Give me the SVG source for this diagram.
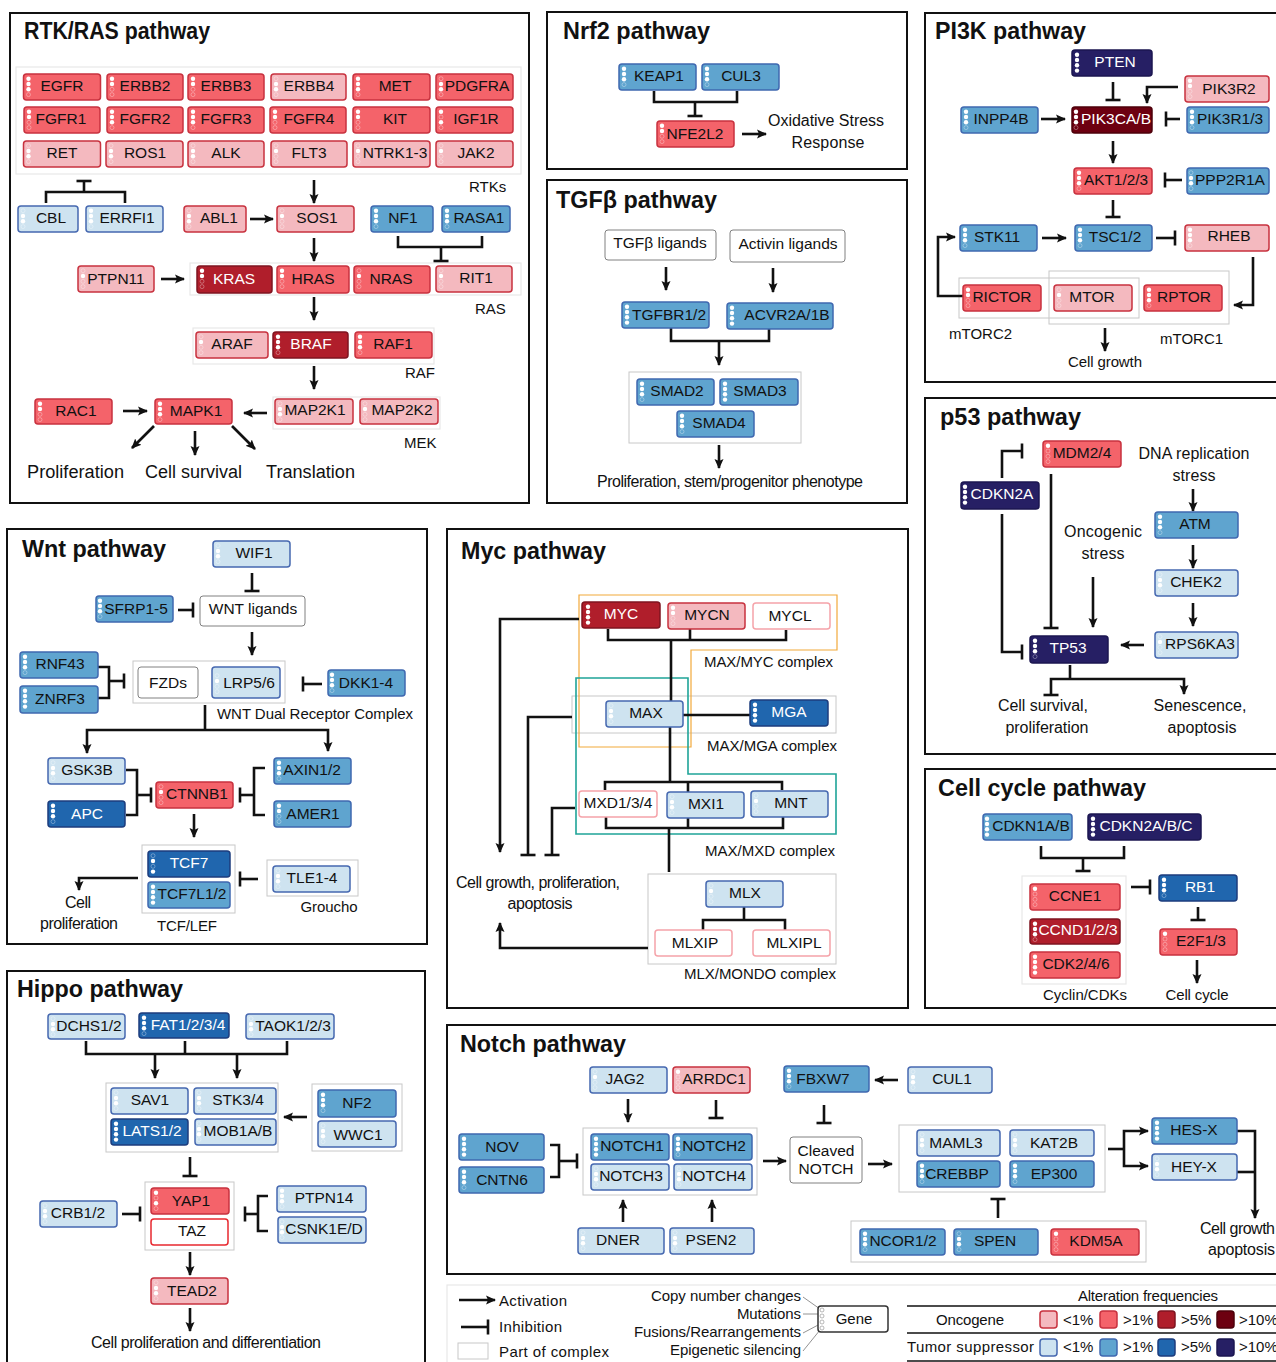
<svg xmlns="http://www.w3.org/2000/svg" width="1276" height="1362" viewBox="0 0 1276 1362">
<style>
text{font-family:"Liberation Sans",Arial,sans-serif;fill:#111}
.ti{font-size:23px;font-weight:700}
.l{font-size:16px}
.b18{font-size:18px}
.s{font-size:15px}
.m{text-anchor:middle}
.e{text-anchor:end}
.nd rect,rect.nd{rx:3px;stroke-width:1.5}
.nd text{font-size:15.5px;text-anchor:middle;transform:translateY(-0.8px)}
.o0 rect,rect.o0{fill:#f4b9bf;stroke:#c8323f}
.o1 rect,rect.o1{fill:#f4636a;stroke:#c8323f}
.o2 rect,rect.o2{fill:#b01e2b;stroke:#7f1420}
.o3 rect,rect.o3{fill:#6d0010;stroke:#4d000a}
.t0 rect,rect.t0{fill:#cee3f0;stroke:#4668b0}
.t1 rect,rect.t1{fill:#5fa4cf;stroke:#3f68b0}
.t2 rect,rect.t2{fill:#2066ae;stroke:#1c3d7e}
.t3 rect,rect.t3{fill:#261f64;stroke:#1b1650}
.o2 text,.o3 text,.t2 text,.t3 text{fill:#fff}
.w rect{fill:#fff;stroke:#f5a3a9}
.r rect{fill:#fff;stroke:#e8282f}
.g rect{fill:#fff;stroke:#808080;stroke-width:1}
.panel{fill:#fff;stroke:#111;stroke-width:2}
.cx{fill:#fff;stroke:#c8c8c8;stroke-width:1}
.cl{fill:#fff;stroke:#e8e8e8;stroke-width:1.2}
.f{fill:#fff}
.h{fill:none;stroke:#fff;stroke-opacity:.4;stroke-width:.8}
#connectors path{fill:none;stroke:#111;stroke-width:2.6}
#connectors path.a{marker-end:url(#a)}
#connectors path.b{marker-end:url(#b)}
#leaders path{fill:none;stroke:#777;stroke-width:.8}
</style>
<defs>
<marker id="a" viewBox="0 0 10 10" refX="9" refY="5" markerWidth="10" markerHeight="10" orient="auto" markerUnits="userSpaceOnUse"><path d="M0 0.5L10 5L0 9.5L2 5Z" fill="#111"/></marker>
<marker id="b" viewBox="0 0 4 16" refX="2" refY="8" markerWidth="4" markerHeight="16" orient="auto" markerUnits="userSpaceOnUse"><rect x="0.7" y="0.5" width="2.6" height="15" fill="#111"/></marker>
<g id="d0000"><circle class="h" cy="4.7" r="2"/><circle class="h" cy="10" r="2"/><circle class="h" cy="15.3" r="2"/><circle class="h" cy="20.6" r="2"/></g>
<g id="d1000"><circle class="f" cy="4.7" r="2.2"/><circle class="h" cy="10" r="2"/><circle class="h" cy="15.3" r="2"/><circle class="h" cy="20.6" r="2"/></g>
<g id="d0100"><circle class="h" cy="4.7" r="2"/><circle class="f" cy="10" r="2.2"/><circle class="h" cy="15.3" r="2"/><circle class="h" cy="20.6" r="2"/></g>
<g id="d1100"><circle class="f" cy="4.7" r="2.2"/><circle class="f" cy="10" r="2.2"/><circle class="h" cy="15.3" r="2"/><circle class="h" cy="20.6" r="2"/></g>
<g id="d0110"><circle class="h" cy="4.7" r="2"/><circle class="f" cy="10" r="2.2"/><circle class="f" cy="15.3" r="2.2"/><circle class="h" cy="20.6" r="2"/></g>
<g id="d1010"><circle class="f" cy="4.7" r="2.2"/><circle class="h" cy="10" r="2"/><circle class="f" cy="15.3" r="2.2"/><circle class="h" cy="20.6" r="2"/></g>
<g id="d1110"><circle class="f" cy="4.7" r="2.2"/><circle class="f" cy="10" r="2.2"/><circle class="f" cy="15.3" r="2.2"/><circle class="h" cy="20.6" r="2"/></g>
<g id="d0101"><circle class="h" cy="4.7" r="2"/><circle class="f" cy="10" r="2.2"/><circle class="h" cy="15.3" r="2"/><circle class="f" cy="20.6" r="2.2"/></g>
<g id="d1111"><circle class="f" cy="4.7" r="2.2"/><circle class="f" cy="10" r="2.2"/><circle class="f" cy="15.3" r="2.2"/><circle class="f" cy="20.6" r="2.2"/></g>
</defs>
<rect width="1276" height="1362" fill="#fff"/>
<g id="panels">
<rect class="panel" x="10" y="13" width="519" height="490"/>
<rect class="panel" x="547" y="12" width="360" height="157"/>
<rect class="panel" x="547" y="180" width="360" height="323"/>
<rect class="panel" x="925" y="13" width="360" height="369"/>
<rect class="panel" x="925" y="398" width="360" height="356"/>
<rect class="panel" x="925" y="769" width="360" height="239"/>
<rect class="panel" x="7" y="529" width="420" height="415"/>
<rect class="panel" x="447" y="529" width="461" height="479"/>
<rect class="panel" x="7" y="971" width="418" height="400"/>
<rect class="panel" x="447" y="1025" width="840" height="249"/>
<rect class="cl" x="447" y="1285" width="840" height="90"/>
</g>
<g id="complexes">
<rect class="cl" x="16" y="67" width="505" height="107"/>
<rect class="cl" x="190" y="263" width="331" height="32"/>
<rect class="cl" x="193" y="328" width="241" height="36"/>
<rect class="cl" x="273" y="397" width="167" height="32"/>
<rect class="cx" x="629" y="372" width="172" height="71"/>
<rect class="cx" x="959" y="278" width="180" height="40"/>
<rect class="cx" x="1049" y="271" width="180" height="53" fill-opacity="0"/>
<rect class="cl" x="1022" y="876" width="104" height="108"/>
<rect class="cx" x="133" y="661" width="152" height="42"/>
<rect class="cx" x="142" y="845" width="93" height="68"/>
<rect class="cx" x="267" y="860" width="91" height="36"/>
<rect class="cx" x="106" y="1083" width="172" height="69"/>
<rect class="cx" x="312" y="1084" width="90" height="67"/>
<rect class="cx" x="145" y="1182" width="89" height="68"/>
<rect class="cx" x="572" y="696" width="264" height="37"/>
<path d="M579 595H837V650H691V747H579Z" fill="none" stroke="#f2a93b" stroke-width="1.2"/>
<path d="M576 678H688V774H836V834H576Z" fill="none" stroke="#1fa498" stroke-width="1.6"/>
<rect class="cx" x="648" y="874" width="188" height="90"/>
<rect class="cx" x="583" y="1128" width="174" height="67"/>
<rect class="cx" x="899" y="1125" width="206" height="67"/>
<rect class="cx" x="851" y="1221" width="295" height="41"/>
</g>
<g id="connectors">
<path class="b" d="M84 192V181"/><path d="M46 203V192H125V203"/>
<path class="a" d="M314 180V203"/><path class="a" d="M250 219H273"/><path class="a" d="M314 238V261"/>
<path d="M398 236V247H482V236"/><path class="b" d="M441 247V261"/>
<path class="a" d="M161 279H184"/><path class="a" d="M314 297V320"/><path class="a" d="M314 366V389"/>
<path class="a" d="M123 411H147"/><path class="a" d="M267 413H244"/>
<path class="a" d="M154 426L132 448"/><path class="a" d="M195 431V455"/><path class="a" d="M232 426L255 449"/>
<path d="M654 91V102H737V91"/><path class="b" d="M695 102V116"/><path class="a" d="M742 134H766"/>
<path class="a" d="M666 267V290"/><path class="a" d="M773 268V292"/>
<path d="M671 328V341H769V329"/><path class="a" d="M719 341V365"/><path class="a" d="M719 445V468"/>
<path class="b" d="M1113 82V100"/><path class="a" d="M1178 87H1147V103"/><path class="a" d="M1041 119H1065"/>
<path class="b" d="M1180 119H1166"/><path class="a" d="M1113 141V163"/><path class="b" d="M1182 180H1165"/>
<path class="b" d="M1113 200V217"/><path class="a" d="M1042 238H1066"/><path class="a" d="M963 296H938V237H955"/>
<path class="b" d="M1156 238H1175"/><path class="a" d="M1253 257V305H1234"/><path class="a" d="M1105 328V351"/>
<path class="b" d="M1002 478V451H1022"/><path class="b" d="M1051 474V628"/><path class="b" d="M1002 514V652H1022"/>
<path class="a" d="M1093 577V627"/><path class="a" d="M1193 489V511"/><path class="a" d="M1193 545V568"/><path class="a" d="M1193 603V626"/>
<path class="a" d="M1144 645H1121"/><path d="M1070 665V679"/><path class="b" d="M1070 679H1051V695"/><path class="a" d="M1070 679H1184V694"/>
<path d="M1041 846V858H1124V846"/><path class="b" d="M1083 858V871"/><path class="b" d="M1131 887H1150"/><path class="b" d="M1198 907V920"/><path class="a" d="M1197 960V983"/>
<path class="b" d="M252 573V591"/><path class="b" d="M178 610H193"/><path class="a" d="M252 632V655"/>
<path d="M98 667H109V698H98"/><path class="b" d="M109 681H124"/><path class="b" d="M322 684H303"/>
<path d="M205 705V730"/><path class="a" d="M205 730H87V753"/><path class="a" d="M205 730H328V751"/>
<path d="M126 770H137V815H126"/><path class="b" d="M137 795H151"/><path d="M265 768H254V815H265"/><path class="b" d="M254 795H240"/>
<path class="a" d="M194 814V837"/><path class="b" d="M258 879H240"/><path class="a" d="M138 878H79V890"/>
<path d="M86 1041V1054H287V1041"/><path d="M185 1041V1054"/><path class="a" d="M155 1054V1078"/><path class="a" d="M237 1054V1078"/>
<path class="a" d="M307 1117H284"/><path class="b" d="M190 1157V1176"/><path class="b" d="M122 1214H140"/>
<path d="M268 1196H258V1231H268"/><path class="b" d="M258 1214H245"/><path class="a" d="M190 1252V1275"/><path class="a" d="M190 1308V1331"/>
<path d="M608 629V640H786V630"/><path d="M690 629V640"/><path d="M671 640V702"/><path d="M683 715H750"/><path d="M670 727V782"/>
<path d="M605 790V782H782V790"/><path d="M688 782V792"/><path d="M606 817V828H783V817"/><path d="M688 818V828"/><path d="M669 828V872"/>
<path class="a" d="M579 619H500V852"/><path class="b" d="M572 717H528V855"/><path class="b" d="M575 808H552V855"/>
<path d="M744 907V920"/><path d="M703 930V920H785V930"/><path class="a" d="M648 948H500V923"/>
<path class="a" d="M898 1080H875"/><path class="b" d="M824 1105V1123"/><path class="a" d="M628 1099V1122"/><path class="b" d="M716 1100V1118"/>
<path d="M550 1145H559V1177H550"/><path class="b" d="M559 1161H577"/><path class="a" d="M763 1161H786"/><path class="a" d="M868 1164H892"/>
<path d="M1108 1149H1124"/><path class="a" d="M1124 1149V1131H1148"/><path class="a" d="M1124 1149V1166H1148"/>
<path class="a" d="M1237 1131H1255V1218"/><path d="M1237 1172H1255"/><path class="b" d="M998 1218V1199"/>
<path class="a" d="M623 1222V1200"/><path class="a" d="M712 1222V1200"/>
<path class="a" d="M459 1300H495"/><path class="b" d="M461 1327H488"/>
</g>
<g id="nodes" class="nd">
<g id="EGFR" class="o1"><rect x="23.5" y="74" width="77" height="26"/><use href="#d1110" x="28.5" y="74"/><text x="62" y="92">EGFR</text></g>
<g id="ERBB2" class="o1"><rect x="107" y="74" width="76" height="26"/><use href="#d1100" x="112" y="74"/><text x="145" y="92">ERBB2</text></g>
<g id="ERBB3" class="o1"><rect x="188" y="74" width="76" height="26"/><use href="#d1100" x="193" y="74"/><text x="226" y="92">ERBB3</text></g>
<g id="ERBB4" class="o0"><rect x="271" y="74" width="75" height="26"/><use href="#d0110" x="276" y="74"/><text x="309" y="92">ERBB4</text></g>
<g id="MET" class="o1"><rect x="353" y="74" width="77" height="26"/><use href="#d1110" x="358" y="74"/><text x="395" y="92">MET</text></g>
<g id="PDGFRA" class="o1"><rect x="436" y="74" width="77" height="26"/><use href="#d0110" x="441" y="74"/><text x="477" y="92">PDGFRA</text></g>
<g id="FGFR1" class="o1"><rect x="24" y="107" width="76" height="26"/><use href="#d1100" x="29" y="107"/><text x="61" y="125">FGFR1</text></g>
<g id="FGFR2" class="o1"><rect x="107" y="107" width="76" height="26"/><use href="#d1110" x="112" y="107"/><text x="145" y="125">FGFR2</text></g>
<g id="FGFR3" class="o1"><rect x="188" y="107" width="76" height="26"/><use href="#d1110" x="193" y="107"/><text x="226" y="125">FGFR3</text></g>
<g id="FGFR4" class="o1"><rect x="270" y="107" width="76" height="26"/><use href="#d1100" x="275" y="107"/><text x="309" y="125">FGFR4</text></g>
<g id="KIT" class="o1"><rect x="353" y="107" width="77" height="26"/><use href="#d1100" x="358" y="107"/><text x="395" y="125">KIT</text></g>
<g id="IGF1R" class="o1"><rect x="436" y="107" width="77" height="26"/><use href="#d1010" x="441" y="107"/><text x="476" y="125">IGF1R</text></g>
<g id="RET" class="o0"><rect x="23.5" y="141" width="77" height="26"/><use href="#d0110" x="28.5" y="141"/><text x="62" y="159">RET</text></g>
<g id="ROS1" class="o0"><rect x="106" y="141" width="77" height="26"/><use href="#d0110" x="111" y="141"/><text x="145" y="159">ROS1</text></g>
<g id="ALK" class="o0"><rect x="188" y="141" width="76" height="26"/><use href="#d0110" x="193" y="141"/><text x="226" y="159">ALK</text></g>
<g id="FLT3" class="o0"><rect x="271" y="141" width="76" height="26"/><use href="#d0100" x="276" y="141"/><text x="309" y="159">FLT3</text></g>
<g id="NTRK1-3" class="o0"><rect x="353" y="141" width="77" height="26"/><use href="#d0100" x="358" y="141"/><text x="395" y="159">NTRK1-3</text></g>
<g id="JAK2" class="o0"><rect x="436" y="141" width="77" height="26"/><use href="#d0100" x="441" y="141"/><text x="476" y="159">JAK2</text></g>
<g id="CBL" class="t0"><rect x="18" y="206" width="60" height="26"/><use href="#d0110" x="23" y="206"/><text x="51" y="224">CBL</text></g>
<g id="ERRFI1" class="t0"><rect x="86" y="206" width="77" height="26"/><use href="#d1110" x="91" y="206"/><text x="127" y="224">ERRFI1</text></g>
<g id="ABL1" class="o0"><rect x="184" y="206" width="62" height="26"/><use href="#d0110" x="189" y="206"/><text x="219" y="224">ABL1</text></g>
<g id="SOS1" class="o0"><rect x="277" y="206" width="77" height="26"/><use href="#d0100" x="282" y="206"/><text x="317" y="224">SOS1</text></g>
<g id="NF1" class="t1"><rect x="371" y="206" width="62" height="26"/><use href="#d1110" x="376" y="206"/><text x="403" y="224">NF1</text></g>
<g id="RASA1" class="t1"><rect x="442" y="206" width="68" height="26"/><use href="#d1110" x="447" y="206"/><text x="479" y="224">RASA1</text></g>
<g id="PTPN11" class="o0"><rect x="78" y="266" width="76" height="26"/><use href="#d0100" x="83" y="266"/><text x="116" y="285">PTPN11</text></g>
<g id="KRAS" class="o2"><rect x="197" y="266" width="75" height="27"/><use href="#d1100" x="202" y="266"/><text x="234" y="285">KRAS</text></g>
<g id="HRAS" class="o1"><rect x="277" y="266" width="72" height="27"/><use href="#d1100" x="282" y="266"/><text x="313" y="285">HRAS</text></g>
<g id="NRAS" class="o1"><rect x="354" y="266" width="76" height="27"/><use href="#d0100" x="359" y="266"/><text x="391" y="285">NRAS</text></g>
<g id="RIT1" class="o0"><rect x="436" y="266" width="76" height="26"/><use href="#d0100" x="441" y="266"/><text x="476" y="284">RIT1</text></g>
<g id="ARAF" class="o0"><rect x="196" y="332" width="72" height="26"/><use href="#d0100" x="201" y="332"/><text x="232" y="350">ARAF</text></g>
<g id="BRAF" class="o2"><rect x="273" y="332" width="75" height="26"/><use href="#d1110" x="278" y="332"/><text x="311" y="350">BRAF</text></g>
<g id="RAF1" class="o1"><rect x="355" y="332" width="77" height="26"/><use href="#d1110" x="360" y="332"/><text x="393" y="350">RAF1</text></g>
<g id="RAC1" class="o1"><rect x="35" y="399" width="77" height="25"/><use href="#d1100" x="40" y="399"/><text x="76" y="417">RAC1</text></g>
<g id="MAPK1" class="o1"><rect x="155" y="399" width="77" height="25"/><use href="#d1110" x="160" y="399"/><text x="196" y="417">MAPK1</text></g>
<g id="MAP2K1" class="o0"><rect x="275" y="399" width="78" height="25"/><use href="#d0110" x="280" y="399"/><text x="315" y="416">MAP2K1</text></g>
<g id="MAP2K2" class="o0"><rect x="360" y="399" width="78" height="25"/><use href="#d0100" x="365" y="399"/><text x="402" y="416">MAP2K2</text></g>
<g id="KEAP1" class="t1"><rect x="619" y="64" width="77" height="26"/><use href="#d1110" x="624" y="64"/><text x="659" y="82">KEAP1</text></g>
<g id="CUL3" class="t1"><rect x="702" y="64" width="77" height="26"/><use href="#d1110" x="707" y="64"/><text x="741" y="82">CUL3</text></g>
<g id="NFE2L2" class="o1"><rect x="657" y="121" width="77" height="26"/><use href="#d1100" x="662" y="121"/><text x="695" y="140">NFE2L2</text></g>
<g id="TGFb-ligands" class="g"><rect x="605" y="230" width="111" height="30"/><text x="660" y="249">TGFβ ligands</text></g>
<g id="Activin-ligands" class="g"><rect x="730" y="230" width="115" height="32"/><text x="788" y="250">Activin ligands</text></g>
<g id="TGFBR1-2" class="t1"><rect x="622" y="302" width="87" height="26"/><use href="#d1111" x="627" y="302"/><text x="669" y="321">TGFBR1/2</text></g>
<g id="ACVR2A-1B" class="t1"><rect x="727" y="303" width="106" height="26"/><use href="#d1111" x="732" y="303"/><text x="787" y="321">ACVR2A/1B</text></g>
<g id="SMAD2" class="t1"><rect x="637" y="379" width="77" height="26"/><use href="#d1110" x="642" y="379"/><text x="677" y="397">SMAD2</text></g>
<g id="SMAD3" class="t1"><rect x="720" y="379" width="78" height="26"/><use href="#d1111" x="725" y="379"/><text x="760" y="397">SMAD3</text></g>
<g id="SMAD4" class="t1"><rect x="677" y="411" width="77" height="26"/><use href="#d1110" x="682" y="411"/><text x="719" y="429">SMAD4</text></g>
<g id="PTEN" class="t3"><rect x="1072" y="50" width="80" height="26"/><use href="#d1111" x="1077" y="50"/><text x="1115" y="68">PTEN</text></g>
<g id="PIK3R2" class="o0"><rect x="1185" y="76" width="84" height="26"/><use href="#d1100" x="1190" y="76"/><text x="1229" y="95">PIK3R2</text></g>
<g id="INPP4B" class="t1"><rect x="961" y="107" width="77" height="26"/><use href="#d1110" x="966" y="107"/><text x="1001" y="125">INPP4B</text></g>
<g id="PIK3CA-B" class="o3"><rect x="1072" y="107" width="80" height="26"/><use href="#d1110" x="1076" y="107"/><text x="1116" y="125" textLength="70" lengthAdjust="spacingAndGlyphs">PIK3CA/B</text></g>
<g id="PIK3R1-3" class="t1"><rect x="1187" y="107" width="82" height="26"/><use href="#d1110" x="1192" y="107"/><text x="1230" y="125" textLength="66" lengthAdjust="spacingAndGlyphs">PIK3R1/3</text></g>
<g id="AKT1-2-3" class="o1"><rect x="1074" y="168" width="78" height="26"/><use href="#d1110" x="1079" y="168"/><text x="1116" y="186" textLength="64" lengthAdjust="spacingAndGlyphs">AKT1/2/3</text></g>
<g id="PPP2R1A" class="t1"><rect x="1187" y="168" width="82" height="26"/><use href="#d0110" x="1191" y="168"/><text x="1230" y="186" textLength="70" lengthAdjust="spacingAndGlyphs">PPP2R1A</text></g>
<g id="STK11" class="t1"><rect x="960" y="225" width="77" height="26"/><use href="#d1110" x="965" y="225"/><text x="997" y="243">STK11</text></g>
<g id="TSC1-2" class="t1"><rect x="1075" y="225" width="77" height="26"/><use href="#d1110" x="1080" y="225"/><text x="1115" y="243">TSC1/2</text></g>
<g id="RHEB" class="o0"><rect x="1185" y="225" width="84" height="26"/><use href="#d1110" x="1190" y="225"/><text x="1229" y="242">RHEB</text></g>
<g id="RICTOR" class="o1"><rect x="963" y="285" width="78" height="26"/><use href="#d1100" x="968" y="285"/><text x="1002" y="303">RICTOR</text></g>
<g id="MTOR" class="o0"><rect x="1054" y="285" width="78" height="26"/><use href="#d0100" x="1059" y="285"/><text x="1092" y="303">MTOR</text></g>
<g id="RPTOR" class="o1"><rect x="1144" y="285" width="78" height="26"/><use href="#d1110" x="1149" y="285"/><text x="1184" y="303">RPTOR</text></g>
<g id="MDM2-4" class="o1"><rect x="1043" y="441" width="78" height="26"/><use href="#d1000" x="1048" y="441"/><text x="1082" y="459">MDM2/4</text></g>
<g id="CDKN2A" class="t3"><rect x="961" y="482" width="78" height="27"/><use href="#d1111" x="965" y="482"/><text x="1002" y="500">CDKN2A</text></g>
<g id="ATM" class="t1"><rect x="1155" y="512" width="83" height="26"/><use href="#d1110" x="1160" y="512"/><text x="1195" y="530">ATM</text></g>
<g id="CHEK2" class="t0"><rect x="1155" y="570" width="83" height="26"/><use href="#d0110" x="1160" y="570"/><text x="1196" y="588">CHEK2</text></g>
<g id="RPS6KA3" class="t0"><rect x="1155" y="632" width="83" height="26"/><use href="#d0100" x="1160" y="632"/><text x="1200" y="650">RPS6KA3</text></g>
<g id="TP53" class="t3"><rect x="1030" y="636" width="78" height="27"/><use href="#d1110" x="1035" y="636"/><text x="1068" y="654">TP53</text></g>
<g id="CDKN1A-B" class="t1"><rect x="983" y="814" width="89" height="26"/><use href="#d1111" x="987" y="814"/><text x="1031" y="832">CDKN1A/B</text></g>
<g id="CDKN2A-B-C" class="t3"><rect x="1088" y="814" width="113" height="26"/><use href="#d1111" x="1093" y="814"/><text x="1146" y="832">CDKN2A/B/C</text></g>
<g id="CCNE1" class="o1"><rect x="1030" y="884" width="90" height="26"/><use href="#d1000" x="1035" y="884"/><text x="1075" y="902">CCNE1</text></g>
<g id="CCND1-2-3" class="o2"><rect x="1030" y="919" width="90" height="25"/><use href="#d1110" x="1035" y="919"/><text x="1078" y="936">CCND1/2/3</text></g>
<g id="CDK2-4-6" class="o1"><rect x="1030" y="952" width="90" height="26"/><use href="#d1111" x="1035" y="952"/><text x="1076" y="970">CDK2/4/6</text></g>
<g id="RB1" class="t2"><rect x="1159" y="875" width="78" height="26"/><use href="#d1110" x="1164" y="875"/><text x="1200" y="893">RB1</text></g>
<g id="E2F1-3" class="o1"><rect x="1160" y="929" width="77" height="26"/><use href="#d1000" x="1165" y="929"/><text x="1201" y="947">E2F1/3</text></g>
<g id="WIF1" class="t0"><rect x="213" y="541" width="77" height="26"/><use href="#d0110" x="218" y="541"/><text x="254" y="559">WIF1</text></g>
<g id="SFRP1-5" class="t1"><rect x="96" y="596" width="77" height="26"/><use href="#d1110" x="100" y="596"/><text x="136" y="615">SFRP1-5</text></g>
<g id="WNT-ligands" class="g"><rect x="200" y="596" width="105" height="30"/><text x="253" y="615">WNT ligands</text></g>
<g id="RNF43" class="t1"><rect x="20" y="652" width="78" height="26"/><use href="#d1110" x="25" y="652"/><text x="60" y="670">RNF43</text></g>
<g id="ZNRF3" class="t1"><rect x="20" y="686" width="78" height="27"/><use href="#d1111" x="25" y="686"/><text x="60" y="705">ZNRF3</text></g>
<g id="FZDs" class="g"><rect x="138" y="667" width="60" height="31"/><text x="168" y="689">FZDs</text></g>
<g id="LRP5-6" class="t0"><rect x="212" y="667" width="68" height="31"/><use href="#d0100" x="217" y="671"/><text x="249" y="689">LRP5/6</text></g>
<g id="DKK1-4" class="t1"><rect x="328" y="670" width="77" height="26"/><use href="#d1110" x="332" y="670"/><text x="366" y="689">DKK1-4</text></g>
<g id="GSK3B" class="t0"><rect x="48" y="758" width="77" height="26"/><use href="#d0110" x="53" y="758"/><text x="87" y="776">GSK3B</text></g>
<g id="APC" class="t2"><rect x="48" y="801" width="77" height="26"/><use href="#d1110" x="53" y="801"/><text x="87" y="820">APC</text></g>
<g id="CTNNB1" class="o1"><rect x="156" y="782" width="77" height="26"/><use href="#d0100" x="161" y="782"/><text x="197" y="800">CTNNB1</text></g>
<g id="AXIN1-2" class="t1"><rect x="274" y="758" width="77" height="26"/><use href="#d1110" x="279" y="758"/><text x="312" y="776">AXIN1/2</text></g>
<g id="AMER1" class="t1"><rect x="274" y="801" width="77" height="26"/><use href="#d1100" x="279" y="801"/><text x="313" y="820">AMER1</text></g>
<g id="TCF7" class="t2"><rect x="148" y="851" width="82" height="26"/><use href="#d0101" x="153" y="851"/><text x="189" y="869">TCF7</text></g>
<g id="TCF7L1-2" class="t1"><rect x="148" y="882" width="82" height="26"/><use href="#d1111" x="153" y="882"/><text x="192" y="900">TCF7L1/2</text></g>
<g id="TLE1-4" class="t0"><rect x="273" y="866" width="77" height="26"/><use href="#d0110" x="278" y="866"/><text x="312" y="884">TLE1-4</text></g>
<g id="DCHS1-2" class="t0"><rect x="48" y="1014" width="77" height="25"/><use href="#d0110" x="53" y="1014"/><text x="89" y="1032">DCHS1/2</text></g>
<g id="FAT1-2-3-4" class="t2"><rect x="139" y="1013" width="90" height="25"/><use href="#d1110" x="144" y="1013"/><text x="188" y="1031">FAT1/2/3/4</text></g>
<g id="TAOK1-2-3" class="t0"><rect x="246" y="1014" width="88" height="25"/><use href="#d0110" x="251" y="1014"/><text x="293" y="1032">TAOK1/2/3</text></g>
<g id="SAV1" class="t0"><rect x="111" y="1088" width="77" height="26"/><use href="#d0110" x="116" y="1088"/><text x="150" y="1106">SAV1</text></g>
<g id="STK3-4" class="t0"><rect x="194" y="1088" width="82" height="26"/><use href="#d0110" x="199" y="1088"/><text x="238" y="1106">STK3/4</text></g>
<g id="LATS1-2" class="t2"><rect x="111" y="1119" width="77" height="26"/><use href="#d1111" x="116" y="1119"/><text x="152" y="1137">LATS1/2</text></g>
<g id="MOB1A-B" class="t0"><rect x="195" y="1119" width="81" height="26"/><use href="#d0110" x="199" y="1119"/><text x="238" y="1137">MOB1A/B</text></g>
<g id="NF2" class="t1"><rect x="318" y="1090" width="78" height="27"/><use href="#d1110" x="323" y="1090"/><text x="357" y="1109">NF2</text></g>
<g id="WWC1" class="t0"><rect x="318" y="1121" width="78" height="26"/><use href="#d0110" x="323" y="1121"/><text x="358" y="1141">WWC1</text></g>
<g id="YAP1" class="o1"><rect x="151" y="1188" width="78" height="26"/><use href="#d1010" x="156" y="1188"/><text x="191" y="1207">YAP1</text></g>
<g id="TAZ" class="r"><rect x="151" y="1219" width="77" height="26"/><text x="192" y="1237">TAZ</text></g>
<g id="CRB1-2" class="t0"><rect x="40" y="1201" width="77" height="26"/><use href="#d0110" x="45" y="1201"/><text x="78" y="1219">CRB1/2</text></g>
<g id="PTPN14" class="t0"><rect x="277" y="1186" width="89" height="26"/><use href="#d1110" x="282" y="1186"/><text x="324" y="1204">PTPN14</text></g>
<g id="CSNK1E-D" class="t0"><rect x="278" y="1217" width="88" height="26"/><use href="#d0110" x="282" y="1217"/><text x="324" y="1235">CSNK1E/D</text></g>
<g id="TEAD2" class="o0"><rect x="151" y="1278" width="77" height="26"/><use href="#d0110" x="156" y="1278"/><text x="192" y="1297">TEAD2</text></g>
<g id="MYC" class="o2"><rect x="582" y="602" width="78" height="26"/><use href="#d1111" x="588" y="602"/><text x="621" y="620">MYC</text></g>
<g id="MYCN" class="o0"><rect x="668" y="603" width="77" height="26"/><use href="#d1100" x="673" y="603"/><text x="707" y="621">MYCN</text></g>
<g id="MYCL" class="w"><rect x="753" y="603" width="77" height="26"/><text x="790" y="622">MYCL</text></g>
<g id="MAX" class="t0"><rect x="606" y="701" width="77" height="26"/><use href="#d0110" x="611" y="701"/><text x="646" y="719">MAX</text></g>
<g id="MGA" class="t2"><rect x="750" y="700" width="78" height="26"/><use href="#d1111" x="755" y="700"/><text x="789" y="718">MGA</text></g>
<g id="MXD1-3-4" class="w"><rect x="579" y="791" width="78" height="26"/><text x="618" y="809">MXD1/3/4</text></g>
<g id="MXI1" class="t0"><rect x="667" y="792" width="77" height="26"/><use href="#d0110" x="672" y="792"/><text x="706" y="810">MXI1</text></g>
<g id="MNT" class="t0"><rect x="751" y="791" width="77" height="26"/><use href="#d0100" x="756" y="791"/><text x="791" y="809">MNT</text></g>
<g id="MLX" class="t0"><rect x="706" y="881" width="77" height="26"/><use href="#d0100" x="711" y="881"/><text x="745" y="899">MLX</text></g>
<g id="MLXIP" class="w"><rect x="655" y="930" width="77" height="26"/><text x="695" y="949">MLXIP</text></g>
<g id="MLXIPL" class="w"><rect x="753" y="930" width="77" height="26"/><text x="794" y="949">MLXIPL</text></g>
<g id="JAG2" class="t0"><rect x="590" y="1067" width="77" height="26"/><use href="#d0100" x="595" y="1067"/><text x="625" y="1085">JAG2</text></g>
<g id="ARRDC1" class="o0"><rect x="673" y="1067" width="77" height="26"/><use href="#d1000" x="678" y="1067"/><text x="714" y="1085">ARRDC1</text></g>
<g id="FBXW7" class="t1"><rect x="784" y="1066" width="85" height="26"/><use href="#d1110" x="789" y="1066"/><text x="823" y="1085">FBXW7</text></g>
<g id="CUL1" class="t0"><rect x="908" y="1067" width="84" height="26"/><use href="#d0110" x="913" y="1067"/><text x="952" y="1085">CUL1</text></g>
<g id="NOV" class="t1"><rect x="459" y="1134" width="85" height="26"/><use href="#d1111" x="464" y="1134"/><text x="502" y="1153">NOV</text></g>
<g id="CNTN6" class="t1"><rect x="459" y="1167" width="85" height="26"/><use href="#d1110" x="464" y="1167"/><text x="502" y="1186">CNTN6</text></g>
<g id="NOTCH1" class="t1"><rect x="591" y="1134" width="78" height="26"/><use href="#d1111" x="596" y="1134"/><text x="632" y="1152">NOTCH1</text></g>
<g id="NOTCH2" class="t1"><rect x="673" y="1134" width="79" height="26"/><use href="#d1110" x="678" y="1134"/><text x="714" y="1152">NOTCH2</text></g>
<g id="NOTCH3" class="t0"><rect x="591" y="1164" width="78" height="26"/><use href="#d0110" x="596" y="1164"/><text x="631" y="1182">NOTCH3</text></g>
<g id="NOTCH4" class="t0"><rect x="674" y="1164" width="78" height="26" stroke-width="1"/><use href="#d0110" x="679" y="1164"/><text x="714" y="1182">NOTCH4</text></g>
<g id="Cleaved-NOTCH" class="g"><rect x="790" y="1137" width="72" height="46"/><text x="826" y="1157">Cleaved</text><text x="826" y="1175">NOTCH</text></g>
<g id="MAML3" class="t0"><rect x="917" y="1130" width="83" height="26"/><use href="#d0110" x="922" y="1130"/><text x="956" y="1149">MAML3</text></g>
<g id="KAT2B" class="t0"><rect x="1010" y="1130" width="84" height="26"/><use href="#d0110" x="1015" y="1130"/><text x="1054" y="1149">KAT2B</text></g>
<g id="CREBBP" class="t1"><rect x="917" y="1161" width="83" height="26"/><use href="#d1110" x="922" y="1161"/><text x="957" y="1180">CREBBP</text></g>
<g id="EP300" class="t1"><rect x="1010" y="1161" width="84" height="26"/><use href="#d1110" x="1015" y="1161"/><text x="1054" y="1180">EP300</text></g>
<g id="HES-X" class="t1"><rect x="1152" y="1118" width="85" height="26"/><use href="#d1111" x="1157" y="1118"/><text x="1194" y="1136">HES-X</text></g>
<g id="HEY-X" class="t0"><rect x="1152" y="1154" width="85" height="26"/><use href="#d0110" x="1157" y="1154"/><text x="1194" y="1173">HEY-X</text></g>
<g id="DNER" class="t0"><rect x="578" y="1228" width="86" height="26"/><use href="#d0110" x="583" y="1228"/><text x="618" y="1246">DNER</text></g>
<g id="PSEN2" class="t0"><rect x="670" y="1228" width="84" height="26"/><use href="#d0110" x="675" y="1228"/><text x="711" y="1246">PSEN2</text></g>
<g id="NCOR1-2" class="t1"><rect x="860" y="1229" width="85" height="26"/><use href="#d1110" x="865" y="1229"/><text x="903" y="1247">NCOR1/2</text></g>
<g id="SPEN" class="t1"><rect x="954" y="1229" width="84" height="26"/><use href="#d0110" x="959" y="1229"/><text x="995" y="1247">SPEN</text></g>
<g id="KDM5A" class="o1"><rect x="1051" y="1229" width="88" height="26"/><use href="#d1000" x="1056" y="1229"/><text x="1096" y="1247">KDM5A</text></g>
</g>
<g id="titles">
<text class="ti" x="24" y="39" textLength="186" lengthAdjust="spacingAndGlyphs">RTK/RAS pathway</text>
<text class="ti" x="563" y="39" textLength="147" lengthAdjust="spacingAndGlyphs">Nrf2 pathway</text>
<text class="ti" x="556" y="208" textLength="161" lengthAdjust="spacingAndGlyphs">TGFβ pathway</text>
<text class="ti" x="935" y="39" textLength="151" lengthAdjust="spacingAndGlyphs">PI3K pathway</text>
<text class="ti" x="940" y="425" textLength="141" lengthAdjust="spacingAndGlyphs">p53 pathway</text>
<text class="ti" x="938" y="796" textLength="208" lengthAdjust="spacingAndGlyphs">Cell cycle pathway</text>
<text class="ti" x="22" y="557" textLength="144" lengthAdjust="spacingAndGlyphs">Wnt pathway</text>
<text class="ti" x="461" y="559" textLength="145" lengthAdjust="spacingAndGlyphs">Myc pathway</text>
<text class="ti" x="17" y="997" textLength="166" lengthAdjust="spacingAndGlyphs">Hippo pathway</text>
<text class="ti" x="460" y="1052" textLength="166" lengthAdjust="spacingAndGlyphs">Notch pathway</text>
</g>
<g id="labels">
<text class="s" x="469" y="192">RTKs</text>
<text class="s" x="475" y="314">RAS</text>
<text class="s" x="405" y="378">RAF</text>
<text class="s" x="404" y="448">MEK</text>
<text class="b18" x="27" y="478" textLength="97" lengthAdjust="spacingAndGlyphs">Proliferation</text>
<text class="b18" x="145" y="478" textLength="97" lengthAdjust="spacingAndGlyphs">Cell survival</text>
<text class="b18" x="266" y="478" textLength="89" lengthAdjust="spacingAndGlyphs">Translation</text>
<text class="l m" x="826" y="126" textLength="116">Oxidative Stress</text>
<text class="l m" x="828" y="148" textLength="73">Response</text>
<text class="l m" x="730" y="487" textLength="266">Proliferation, stem/progenitor phenotype</text>
<text class="s" x="949" y="339">mTORC2</text>
<text class="s" x="1160" y="344">mTORC1</text>
<text class="s" x="1068" y="367" textLength="74">Cell growth</text>
<text class="l m" x="1194" y="459" textLength="111">DNA replication</text>
<text class="l m" x="1194" y="481" textLength="43">stress</text>
<text class="l m" x="1103" y="537" textLength="78">Oncogenic</text>
<text class="l m" x="1103" y="559" textLength="43">stress</text>
<text class="l m" x="1043" y="711" textLength="90">Cell survival,</text>
<text class="l m" x="1047" y="733" textLength="83">proliferation</text>
<text class="l m" x="1200" y="711" textLength="93">Senescence,</text>
<text class="l m" x="1202" y="733" textLength="69">apoptosis</text>
<text class="s m" x="1085" y="1000" textLength="84">Cyclin/CDKs</text>
<text class="s m" x="1197" y="1000" textLength="63">Cell cycle</text>
<text class="s" x="217" y="719" textLength="196">WNT Dual Receptor Complex</text>
<text class="s m" x="329" y="912" textLength="57">Groucho</text>
<text class="l m" x="78" y="908" textLength="26">Cell</text>
<text class="l m" x="79" y="929" textLength="78">proliferation</text>
<text class="s m" x="187" y="931" textLength="60">TCF/LEF</text>
<text class="l m" x="206" y="1348" textLength="230">Cell proliferation and differentiation</text>
<text class="s" x="704" y="667" textLength="129">MAX/MYC complex</text>
<text class="s" x="707" y="751" textLength="130">MAX/MGA complex</text>
<text class="s" x="705" y="856" textLength="130">MAX/MXD complex</text>
<text class="s" x="684" y="979" textLength="152">MLX/MONDO complex</text>
<text class="l m" x="538" y="888" textLength="164">Cell growth, proliferation,</text>
<text class="l m" x="540" y="909" textLength="65">apoptosis</text>
<text class="l" x="1200" y="1234" textLength="75">Cell growth</text>
<text class="l" x="1208" y="1255" textLength="67">apoptosis</text>
</g>
<g id="legend">
<text class="s" x="499" y="1306" textLength="68">Activation</text>
<text class="s" x="499" y="1332" textLength="63">Inhibition</text>
<rect class="cx" x="458" y="1343" width="30" height="16"/>
<text class="s" x="499" y="1357" textLength="110">Part of complex</text>
<text class="s e" x="801" y="1301" textLength="150">Copy number changes</text>
<text class="s e" x="801" y="1319" textLength="64">Mutations</text>
<text class="s e" x="801" y="1337" textLength="167">Fusions/Rearrangements</text>
<text class="s e" x="801" y="1355" textLength="131">Epigenetic silencing</text>
<g id="leaders"><path d="M803 1297L820 1309"/><path d="M803 1314H820"/><path d="M803 1333L820 1324"/><path d="M803 1351L820 1330"/></g>
<g id="Gene"><rect x="818" y="1306" width="70" height="26" rx="3" fill="#fff" stroke="#333" stroke-width="1.5"/><circle cx="822" cy="1310" r="2" fill="none" stroke="#999" stroke-width=".7"/><circle cx="822" cy="1316" r="2" fill="none" stroke="#999" stroke-width=".7"/><circle cx="822" cy="1322" r="2" fill="none" stroke="#999" stroke-width=".7"/><circle cx="822" cy="1328" r="2" fill="none" stroke="#999" stroke-width=".7"/><text class="s m" x="854" y="1324">Gene</text></g>
<text class="s m" x="1148" y="1301" textLength="140">Alteration frequencies</text>
<path d="M907 1306H1276M907 1333H1276M907 1361H1276" fill="none" stroke="#111" stroke-width="1.6"/>
<text class="s m" x="970" y="1325" textLength="68">Oncogene</text>
<text class="s" x="907" y="1352" textLength="127">Tumor suppressor</text>
<rect class="nd o0" x="1040" y="1311" width="17" height="17"/><text class="s" x="1063" y="1325">&lt;1%</text>
<rect class="nd o1" x="1100" y="1311" width="17" height="17"/><text class="s" x="1123" y="1325">&gt;1%</text>
<rect class="nd o2" x="1158" y="1311" width="17" height="17"/><text class="s" x="1181" y="1325">&gt;5%</text>
<rect class="nd o3" x="1217" y="1311" width="17" height="17"/><text class="s" x="1239" y="1325">&gt;10%</text>
<rect class="nd t0" x="1040" y="1339" width="17" height="17"/><text class="s" x="1063" y="1352">&lt;1%</text>
<rect class="nd t1" x="1100" y="1339" width="17" height="17"/><text class="s" x="1123" y="1352">&gt;1%</text>
<rect class="nd t2" x="1158" y="1339" width="17" height="17"/><text class="s" x="1181" y="1352">&gt;5%</text>
<rect class="nd t3" x="1217" y="1339" width="17" height="17"/><text class="s" x="1239" y="1352">&gt;10%</text>
</g>
</svg>
